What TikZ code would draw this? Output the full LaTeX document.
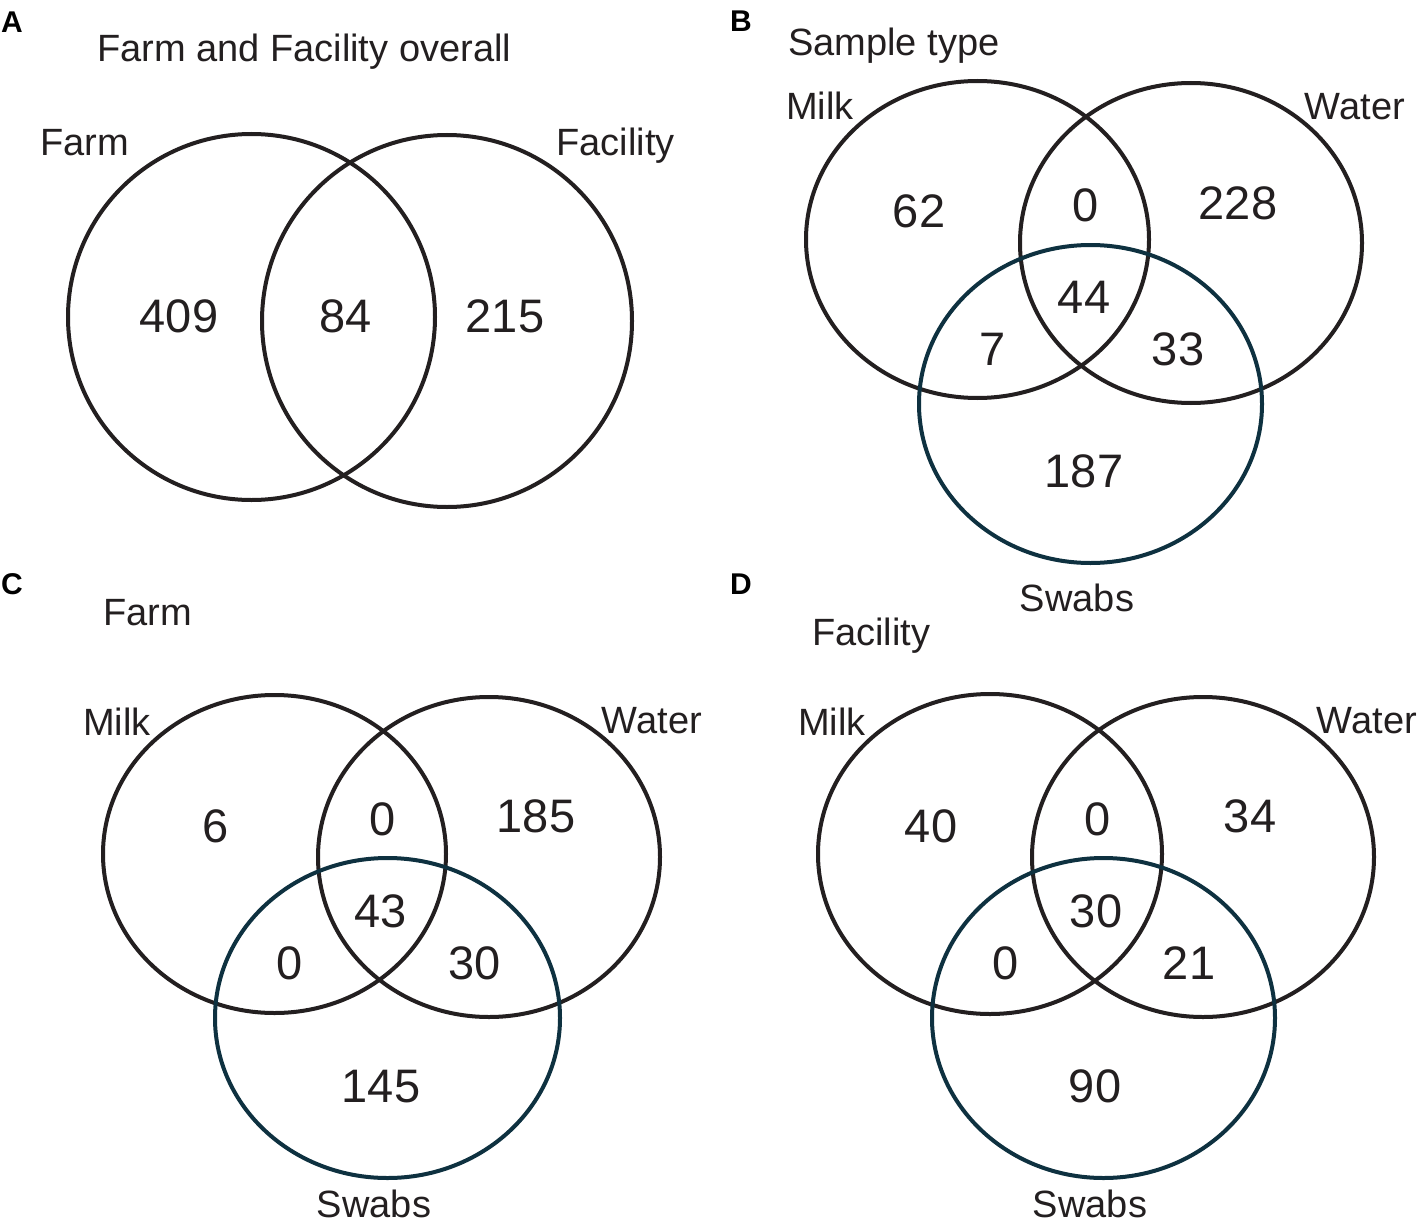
\documentclass[tikz,border=0pt]{standalone}
\usepackage{fontspec}
\setmainfont{Liberation Sans}
\definecolor{ink}{HTML}{231F20}
\definecolor{swab}{HTML}{0E3140}
\begin{document}
\begin{tikzpicture}[x=1pt,y=-1pt,
  venn/.style={draw=ink,line width=4pt},
  vennswab/.style={draw=swab,line width=4pt},
  lab/.style={inner sep=0pt,anchor=base west,text=ink,font=\fontsize{38}{40}\selectfont},
  labr/.style={lab,anchor=base east},
  labc/.style={lab,anchor=base},
  num/.style={inner sep=0pt,anchor=base,text=ink,font=\fontsize{47}{50}\selectfont},
  panel/.style={inner sep=0pt,anchor=base west,text=black,font=\fontsize{30}{32}\selectfont\bfseries}]
\useasboundingbox[fill=white] (0,0) rectangle (1421,1225);

% ---------- Panel A ----------
\node[panel] (pA) at (1,33) {A};
\node[lab] (tA) at (97,61.5) {Farm and Facility overall};
\draw[venn] (251.5,317) ellipse [x radius=183.5pt,y radius=183pt];
\draw[venn] (447,321) ellipse [x radius=185pt,y radius=186pt];
\node[lab] (lAfarm) at (40,156) {Farm};
\node[labr] (lAfac) at (675,156) {Facility};
\node[num] (nA1) at (179,332) {409};
\node[num] (nA2) at (346,332) {84};
\node[num] (nA3) at (505,332) {215};

% ---------- Panel B ----------
\node[panel] (pB) at (730,32) {B};
\node[lab] (tB) at (788,56) {Sample type};
\draw[venn] (977.5,239.5) ellipse [x radius=171.5pt,y radius=158.5pt];
\draw[venn] (1191,243) ellipse [x radius=171pt,y radius=160pt];
\draw[vennswab] (1090.5,404) ellipse [x radius=171.5pt,y radius=159pt];
\node[lab] (lBmilk) at (786,120) {Milk};
\node[labr] (lBwater) at (1405,120) {Water};
\node[labc] (lBswab) at (1077,611) {Swabs};
\node[num] (nB1) at (919,227) {62};
\node[num] (nB2) at (1086,222) {0};
\node[num] (nB3) at (1238,219) {228};
\node[num] (nB4) at (1084,313) {44};
\node[num] (nB5) at (993,365) {7};
\node[num] (nB6) at (1178,365) {33};
\node[num] (nB7) at (1084,487) {187};

% ---------- Panel C ----------
\node[panel] (pC) at (1,594) {C};
\node[lab] (tC) at (103,625) {Farm};
\draw[venn] (274.5,854) ellipse [x radius=171.5pt,y radius=159pt];
\draw[venn] (489,857) ellipse [x radius=171pt,y radius=160pt];
\draw[vennswab] (387.5,1018) ellipse [x radius=172.5pt,y radius=160pt];
\node[lab] (lCmilk) at (83,735) {Milk};
\node[labr] (lCwater) at (702,733) {Water};
\node[labc] (lCswab) at (374,1217) {Swabs};
\node[num] (nC1) at (216,842) {6};
\node[num] (nC2) at (383,835) {0};
\node[num] (nC3) at (536,832) {185};
\node[num] (nC4) at (381,927) {43};
\node[num] (nC5) at (290,979) {0};
\node[num] (nC6) at (475,979) {30};
\node[num] (nC7) at (381,1102) {145};

% ---------- Panel D ----------
\node[panel] (pD) at (730,594) {D};
\node[lab] (tD) at (812,645) {Facility};
\draw[venn] (990,854) ellipse [x radius=172pt,y radius=160pt];
\draw[venn] (1203,857) ellipse [x radius=171pt,y radius=160pt];
\draw[vennswab] (1103.5,1018) ellipse [x radius=171.5pt,y radius=160pt];
\node[lab] (lDmilk) at (798,735) {Milk};
\node[labr] (lDwater) at (1417,733) {Water};
\node[labc] (lDswab) at (1090,1217) {Swabs};
\node[num] (nD1) at (931,842) {40};
\node[num] (nD2) at (1098,835) {0};
\node[num] (nD3) at (1250,832) {34};
\node[num] (nD4) at (1096,927) {30};
\node[num] (nD5) at (1006,979) {0};
\node[num] (nD6) at (1189,979) {21};
\node[num] (nD7) at (1095,1102) {90};
\end{tikzpicture}
\end{document}
